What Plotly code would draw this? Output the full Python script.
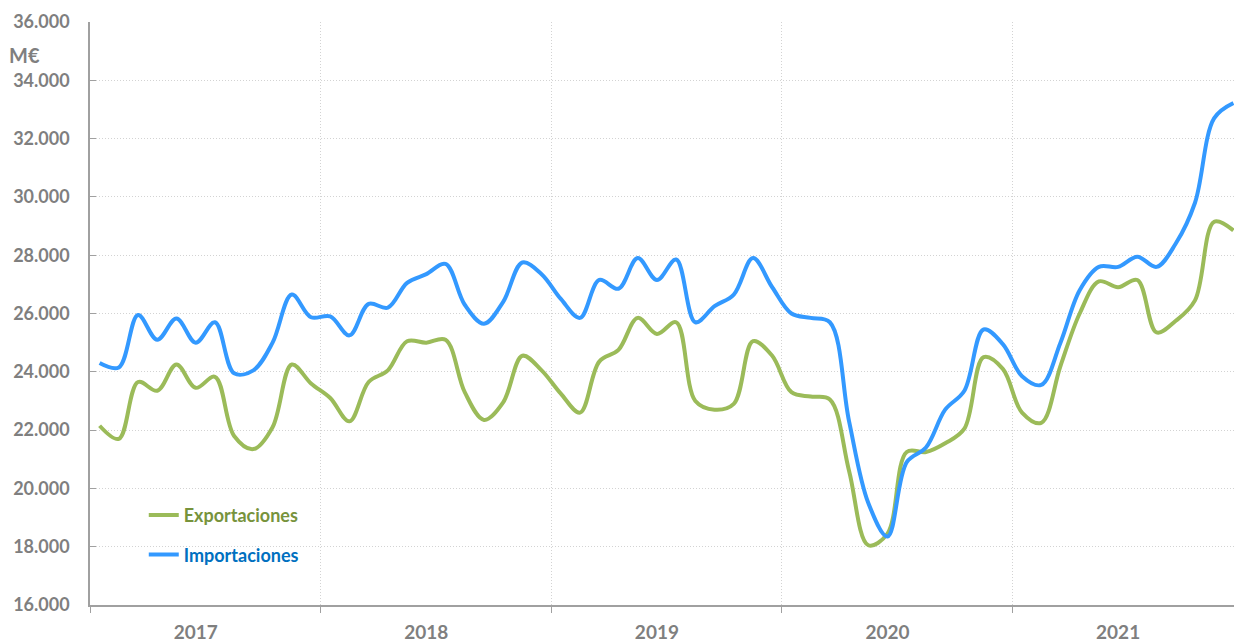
import plotly.graph_objects as go

years = ["2017", "2018", "2019", "2020", "2021"]
months = list(range(60))

exportaciones = [
    22150, 21700, 23650, 23350, 24250, 23450, 23830, 21800, 21350, 22100, 24250, 23600,
    23100, 22300, 23650, 24050, 25050, 25000, 25100, 23300, 22350, 22950, 24550, 24050,
    23250, 22600, 24350, 24750, 25850, 25300, 25700, 23000, 22700, 22900, 25050, 24550,
    23300, 23150, 23050, 20600, 18050, 18450, 21250, 21250, 21550, 22050, 24500, 24100,
    22600, 22250, 24200, 26000, 27100, 26900, 27150, 25350, 25750, 26450, 29150, 28850,
]
importaciones = [
    24300, 24150, 25950, 25100, 25830, 25000, 25700, 23950, 24050, 25000, 26650, 25870,
    25900, 25250, 26330, 26200, 27050, 27350, 27700, 26300, 25650, 26400, 27750, 27350,
    26500, 25850, 27150, 26850, 27900, 27150, 27850, 25700, 26250, 26650, 27900, 26900,
    26000, 25850, 25700, 22300, 19500, 18350, 20900, 21400, 22700, 23350, 25450, 24950,
    23850, 23550, 25000, 26800, 27600, 27600, 27950, 27600, 28400, 29800, 32700, 33220,
]

GREEN = "#9BBB59"
BLUE = "#3399FF"
GRAY = "#7F7F7F"
FONT = "Lato"

fig = go.Figure()
fig.add_trace(go.Scatter(
    x=months, y=exportaciones, mode="lines", name="Exportaciones",
    line=dict(color=GREEN, width=4, shape="spline", smoothing=1.0),
    legend="legend", showlegend=True,
))
fig.add_trace(go.Scatter(
    x=months, y=importaciones, mode="lines", name="Importaciones",
    line=dict(color=BLUE, width=4, shape="spline", smoothing=1.0),
    legend="legend2", showlegend=True,
))

year_centers = [12 * i + 5 for i in range(len(years))]

fig.update_layout(
    width=1234, height=644,
    margin=dict(l=90, r=0, t=22, b=39),
    paper_bgcolor="white", plot_bgcolor="white",
    separators=",.",
    showlegend=True,
    font=dict(family=FONT, color=GRAY),
    xaxis=dict(
        range=[-0.5, 59.03], automargin=False,
        tickmode="array", tickvals=year_centers, ticktext=years,
        ticks="", showgrid=False, zeroline=False,
        showline=True, linecolor="#A0A0A0", linewidth=1.5,
        tickfont=dict(family=FONT, size=19, color=GRAY, weight="bold"),
        ticklabelstandoff=9,
        minor=dict(tickmode="linear", tick0=-0.5, dtick=12, showgrid=True,
                   gridcolor="#D3D3D3", griddash="1px,2px", gridwidth=1,
                   ticks="outside", ticklen=6, tickcolor="#A0A0A0", tickwidth=1),
    ),
    yaxis=dict(
        range=[16000, 36000], dtick=2000, tick0=16000, automargin=False,
        tickformat=",d",
        showgrid=True, gridcolor="#D3D3D3", griddash="1px,2px", gridwidth=1,
        zeroline=False,
        showline=True, linecolor="#A0A0A0", linewidth=1.5,
        ticks="inside", ticklen=6, tickcolor="#A0A0A0", tickwidth=1,
        tickfont=dict(family=FONT, size=18, color=GRAY, weight="bold"),
        ticklabelstandoff=15,
    ),
    legend=dict(
        x=0.047, y=0.154, xanchor="left", yanchor="middle",
        bgcolor="rgba(0,0,0,0)",
        font=dict(family=FONT, size=18, color="#77933C", weight="bold"),
    ),
    legend2=dict(
        x=0.047, y=0.086, xanchor="left", yanchor="middle",
        bgcolor="rgba(0,0,0,0)",
        font=dict(family=FONT, size=18, color="#0070C0", weight="bold"),
    ),
    annotations=[
        dict(text="M€", xref="paper", yref="paper", x=-0.057, y=0.944,
             xanchor="center", yanchor="middle", showarrow=False,
             font=dict(family=FONT, size=20, color=GRAY, weight="bold")),
    ],
)

fig.write_html(
    "out.html",
    config={"displayModeBar": False},
    post_script="document.body.style.margin='0';document.body.style.overflow='hidden';",
)
